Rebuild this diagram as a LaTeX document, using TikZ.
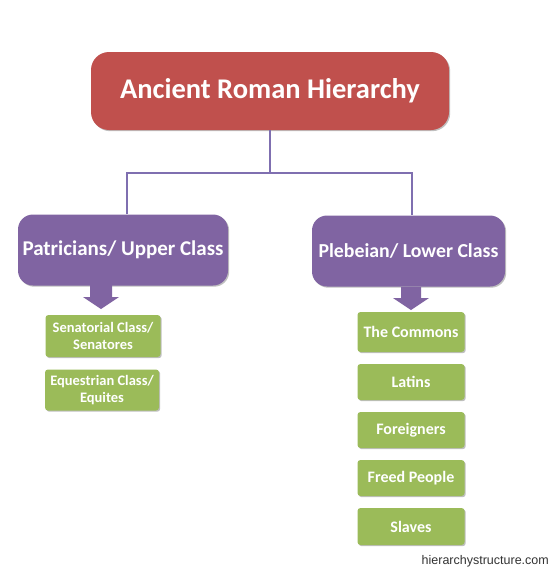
\documentclass[tikz,border=0pt]{standalone}
\usepackage{fontspec}
\setmainfont{Carlito}
\newfontfamily\wmfont{Liberation Sans}
\usetikzlibrary{shadows}
\definecolor{romanred}{HTML}{C0504D}
\definecolor{rompurple}{HTML}{8064A2}
\definecolor{romgreen}{HTML}{9BBB59}
\definecolor{romline}{HTML}{7F6FB0}
\tikzset{
  x=1pt, y=-1pt,
  shade/.style={drop shadow={shadow xshift=1.2pt, shadow yshift=-1.2pt, opacity=.25, fill=black}},
  topbox/.style={shade, fill=romanred, rounded corners=18pt, text=white, font=\bfseries\fontsize{28.5}{31}\selectfont, minimum width=358pt, minimum height=78pt, inner sep=0pt},
  classbox/.style={shade, fill=rompurple, rounded corners=15pt, text=white, font=\bfseries\fontsize{21}{24}\selectfont, minimum height=71pt, inner sep=0pt},
  itembox/.style={shade, fill=romgreen, rounded corners=3pt, text=white, align=center, font=\bfseries\fontsize{16}{18}\selectfont, minimum width=107pt, minimum height=36pt, inner sep=0pt},
  smallitem/.style={itembox, font=\bfseries\fontsize{14.5}{17}\selectfont, minimum width=115pt, minimum height=42pt},
  conn/.style={draw=romline, line width=1.8pt},
  blockarrow/.style={fill=rompurple},
}
\begin{document}
\begin{tikzpicture}
\useasboundingbox[fill=white] (0,0) rectangle (550,570);

\node[topbox] (top) at (270,91) {Ancient Roman Hierarchy};
\node[classbox, minimum width=210pt] (pat) at (123,250) {Patricians/ Upper Class};
\node[classbox, minimum width=193pt, font=\bfseries\fontsize{19.8}{23}\selectfont] (pleb) at (408.5,251) {Plebeian/ Lower Class};

\coordinate (jl) at (127,173);
\coordinate (jr) at (412,173);
\draw[conn] (top.south) -- (top.south |- jl);
\draw[conn] (jl |- pat.north) -- (jl) -- (jr) -- (jr |- pleb.north);

% block arrows
\coordinate (al) at (101,285);
\coordinate (ar) at (411,287);
\fill[blockarrow] (al) ++(-11,0) -- ++(0,12) -- ++(-7,0) -- ++(18,12) -- ++(18,-12) -- ++(-7,0) -- ++(0,-12) -- cycle;
\fill[blockarrow] (ar) ++(-10,0) -- ++(0,11) -- ++(-8,0) -- ++(18,12) -- ++(18,-12) -- ++(-8,0) -- ++(0,-11) -- cycle;

% left items
\node[smallitem] (sen) at (103,336) {Senatorial Class/\\Senatores};
\node[smallitem, minimum width=114pt, minimum height=41pt] (equ) at (102,390) {Equestrian Class/\\Equites};

% right items
\node[itembox, minimum height=40pt] (com) at (411,332) {The Commons};
\node[itembox] (lat) at (411,382) {Latins};
\node[itembox] (for) at (411,430) {Foreigners};
\node[itembox] (fre) at (411,478) {Freed People};
\node[itembox, minimum height=37pt] (sla) at (411,526.5) {Slaves};

\node[anchor=east, inner sep=0pt, text=black!80, font=\wmfont\fontsize{12.5}{14}\selectfont] (wm) at (549,561) {hierarchystructure.com};
\end{tikzpicture}
\end{document}
